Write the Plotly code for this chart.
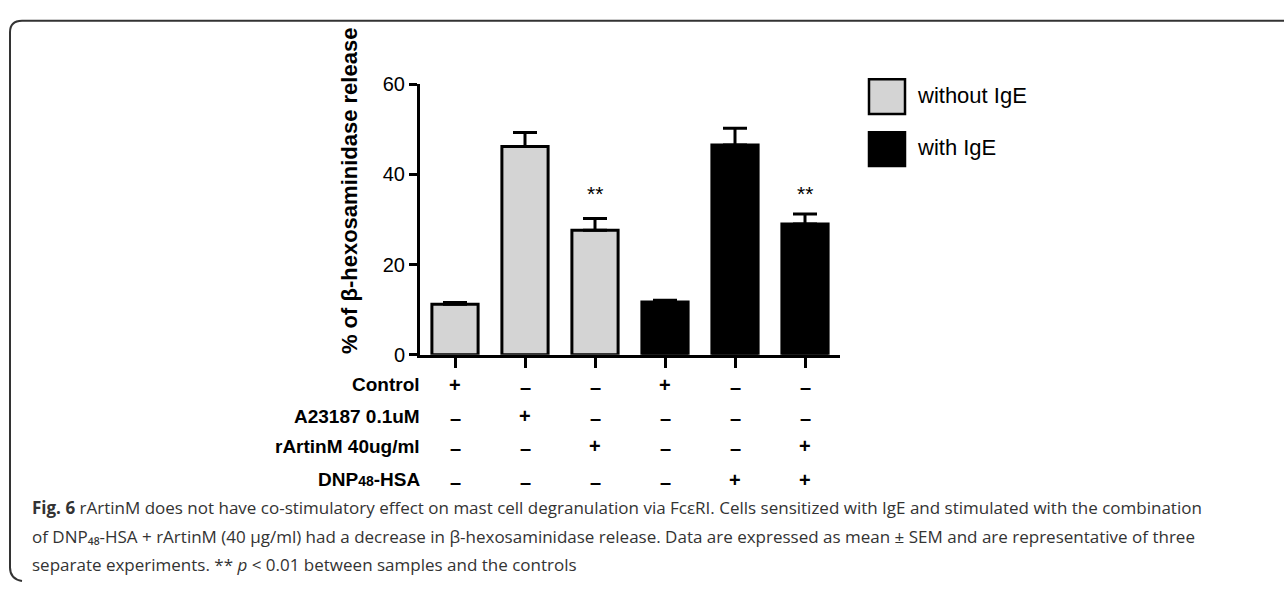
import plotly.graph_objects as go

W, H = 1284, 592

# ---- data ----
x_without = [0, 1, 2]
x_with = [3, 4, 5]
without_ige = [11.2, 46.2, 27.6]
without_err = [0.4, 3.1, 2.6]
with_ige = [11.7, 46.5, 29.0]
with_err = [0.4, 3.7, 2.2]
sig_x = [2, 5]
sig_y = [35.8, 35.8]
sig_text = ["**", "**"]

row_labels = ["Control", "A23187 0.1uM", "rArtinM 40ug/ml",
              "DNP<span style='font-size:14px'>48</span>-HSA"]
row_signs = [
    ["+", "–", "–", "+", "–", "–"],
    ["–", "+", "–", "–", "–", "–"],
    ["–", "–", "+", "–", "–", "+"],
    ["–", "–", "–", "–", "+", "+"],
]
y_ticks = [0, 20, 40, 60]
legend_names = ["without IgE", "with IgE"]

caption_lines = [
    "<b>Fig. 6</b> rArtinM does not have co-stimulatory effect on mast cell degranulation via FcεRI. Cells sensitized with IgE and stimulated with the combination",
    "of DNP₄₈-HSA + rArtinM (40 μg/ml) had a decrease in β-hexosaminidase release. Data are expressed as mean ± SEM and are representative of three",
    "separate experiments. ** <i>p</i> &lt; 0.01 between samples and the controls",
]


def px(x):
    return x / W


def py(y):
    return 1 - y / H


GRAY = "#d4d4d4"
FONT = "Liberation Sans, Arial, sans-serif"

fig = go.Figure()
fig.add_trace(go.Bar(
    x=x_without, y=without_ige, width=0.66, name=legend_names[0],
    marker=dict(color=GRAY, line=dict(color="black", width=3)),
    error_y=dict(type="data", array=without_err, arrayminus=[0] * 3,
                 color="black", thickness=3, width=12),
    showlegend=False,
))
fig.add_trace(go.Bar(
    x=x_with, y=with_ige, width=0.66, name=legend_names[1],
    marker=dict(color="black", line=dict(color="black", width=3)),
    error_y=dict(type="data", array=with_err, arrayminus=[0] * 3,
                 color="black", thickness=3, width=12),
    showlegend=False,
))

annotations = []
# significance stars
for xs, ys, t in zip(sig_x, sig_y, sig_text):
    annotations.append(dict(x=xs, y=ys, xref="x", yref="y", text=t, showarrow=False,
                            font=dict(family=FONT, size=21, color="black")))

# condition rows
row_y = [388, 421, 452, 487]
for lab, signs, ry in zip(row_labels, row_signs, row_y):
    annotations.append(dict(x=px(422), y=py(ry), xref="paper", yref="paper",
                            text="<b>" + lab + "</b>", showarrow=False,
                            xanchor="right", yanchor="middle",
                            font=dict(family=FONT, size=19, color="black")))
    for i, s in enumerate(signs):
        annotations.append(dict(x=i, y=py(ry), xref="x", yref="paper",
                                text="<b>" + s + "</b>", showarrow=False,
                                xanchor="center", yanchor="middle",
                                yshift=-2 if s == "–" else 0,
                                font=dict(family=FONT, size=20, color="black")))

# y-axis title
annotations.append(dict(x=px(349), y=py(187), xref="paper", yref="paper",
                        text="<b>% of β-hexosaminidase release</b>", textangle=-90,
                        showarrow=False, xanchor="center", yanchor="middle",
                        font=dict(family=FONT, size=22, color="black")))

# legend
shapes = []
leg_boxes = [(869, 71, 905, 107, GRAY), (869, 126, 905, 161, "black")]
leg_text_y = [88, 142]
for (x0, y0, x1, y1, c), name, ty in zip(leg_boxes, legend_names, leg_text_y):
    shapes.append(dict(type="rect", xref="paper", yref="paper",
                       x0=px(x0), x1=px(x1), y0=py(y1), y1=py(y0),
                       fillcolor=c, line=dict(color="black", width=2.5)))
    annotations.append(dict(x=px(915), y=py(ty), xref="paper", yref="paper",
                            text=name, showarrow=False, xanchor="left", yanchor="middle",
                            font=dict(family=FONT, size=22, color="black")))

# caption
cap_y = [516, 546, 575]
for line, cy in zip(caption_lines, cap_y):
    annotations.append(dict(x=px(30), y=py(cy), xref="paper", yref="paper",
                            text=line, showarrow=False, xanchor="left", yanchor="middle",
                            font=dict(family="Open Sans, Noto Sans, sans-serif", size=17,
                                      color="#333333")))

# rounded frame
r = 12
path = (f"M {px(W + 5)},{py(10)} L {px(10 + r)},{py(10)} "
        f"Q {px(10)},{py(10)} {px(10)},{py(10 + r)} "
        f"L {px(10)},{py(590 - r)} Q {px(10)},{py(590)} {px(10 + r)},{py(592)}")
shapes.append(dict(type="path", xref="paper", yref="paper", path=path,
                   line=dict(color="#333333", width=2)))

fig.update_layout(
    width=W, height=H,
    margin=dict(l=0, r=0, t=0, b=0),
    paper_bgcolor="white", plot_bgcolor="white",
    barmode="overlay",
    showlegend=False,
    xaxis=dict(domain=[px(420), px(840)], range=[-0.5, 5.5],
               tickvals=[0, 1, 2, 3, 4, 5], showticklabels=False,
               ticks="outside", ticklen=10, tickwidth=3, tickcolor="black",
               showline=True, linecolor="black", linewidth=3,
               showgrid=False, zeroline=False, fixedrange=True),
    yaxis=dict(domain=[py(357), py(76)], range=[0, 60],
               tickvals=y_ticks, ticks="outside", ticklen=8, tickwidth=3,
               tickcolor="black", showline=True, linecolor="black", linewidth=3,
               tickfont=dict(family=FONT, size=20, color="black"),
               showgrid=False, zeroline=False, fixedrange=True),
    annotations=annotations,
    shapes=shapes,
)

fig.write_html("out.html")
